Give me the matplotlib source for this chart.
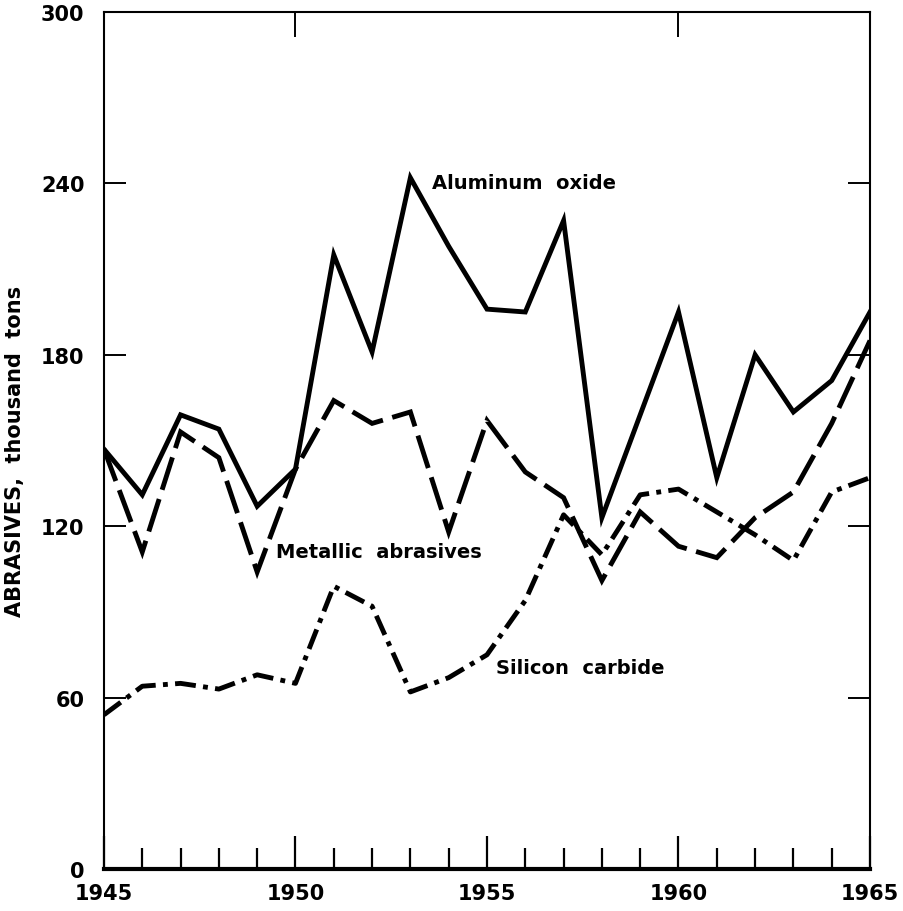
import numpy as np
import matplotlib.pyplot as plt
from matplotlib.ticker import FixedLocator, MultipleLocator

# Abrasives production, thousand tons
years = list(range(1945, 1966))
aluminum_oxide = [147, 131, 159, 154, 127, 140, 215, 181, 242, 218, 196,
                  195, 227, 123, 159, 195, 137, 180, 160, 171, 195]
metallic = [147, 111, 153, 144, 104, 140, 164, 156, 160, 118, 157,
            139, 130, 101, 125, 113, 109, 123, 132, 156, 185]
silicon_carbide = [54, 64, 65, 63, 68, 65, 99, 92, 62, 67, 75,
                   94, 124, 110, 131, 133, 125, 117, 108, 132, 137]

y_ticks = [0, 60, 120, 180, 240, 300]
x_ticks = [1945, 1950, 1955, 1960, 1965]

plt.rcParams["font.family"] = "DejaVu Sans"

fig = plt.figure(figsize=(9.04, 9.12), dpi=100)
ax = fig.add_axes([0.115, 0.046, 0.8474, 0.9397])

lw = 3.5
ax.plot(years, aluminum_oxide, color="black", lw=lw, solid_joinstyle="miter")
ax.plot(years, metallic, color="black", lw=lw, linestyle=(0, (7, 2)),
        dash_joinstyle="miter")
ax.plot(years, silicon_carbide, color="black", lw=lw,
        linestyle=(0, (4.3, 1.5, 1.0, 1.5)))

# series labels
label_kw = dict(fontsize=14, fontweight="bold", va="center", ha="left")
ax.text(1953.56, 240.5, "Aluminum  oxide", **label_kw)
ax.text(1949.49, 111, "Metallic  abrasives", **label_kw)
ax.text(1955.23, 70.7, "Silicon  carbide", **label_kw)

ax.set_xlim(1945, 1965)
ax.set_ylim(0, 300)

ax.xaxis.set_major_locator(FixedLocator(x_ticks))
ax.xaxis.set_minor_locator(MultipleLocator(1))
ax.yaxis.set_major_locator(FixedLocator(y_ticks))

ax.tick_params(axis="x", which="major", direction="in", length=24, width=1.6,
               labelsize=15, pad=10)
ax.tick_params(axis="x", which="minor", direction="in", length=15, width=1.6)
ax.tick_params(axis="y", which="major", direction="in", length=16, width=1.4,
               labelsize=15, right=True, pad=14)
for lab in ax.get_xticklabels() + ax.get_yticklabels():
    lab.set_fontweight("bold")

# two ticks only along the top edge
top = ax.secondary_xaxis("top")
top.set_xticks([1950, 1960])
top.tick_params(direction="in", length=18, width=1.4, labeltop=False)
top.spines["top"].set_visible(False)

ax.set_ylabel("ABRASIVES,  thousand  tons", fontsize=15, fontweight="bold")
ax.yaxis.set_label_coords(-0.103, 0.489)

for side in ["left", "right", "top"]:
    ax.spines[side].set_linewidth(1.5)
ax.spines["bottom"].set_linewidth(3)

fig.savefig("out.png", dpi=100)
